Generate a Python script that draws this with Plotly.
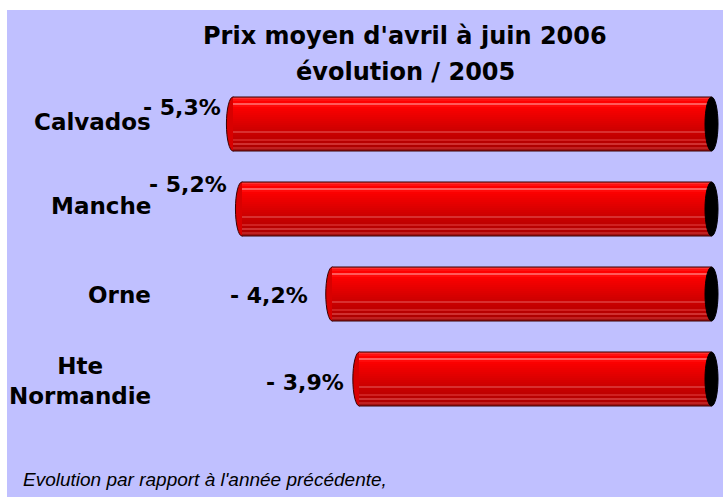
import plotly.graph_objects as go

# ---- data ----
categories = ["Calvados", "Manche", "Orne", "Hte<br>Normandie"]
values = [-5.3, -5.2, -4.2, -3.9]
value_labels = ["- 5,3%", "- 5,2%", "- 4,2%", "- 3,9%"]
title_lines = ["Prix moyen d'avril à juin 2006", "évolution / 2005"]
footnote = "Evolution par rapport à l'année précédente,"

# ---- style / layout helpers (not data) ----
W, H = 723, 497
ML, MT = 7, 10
PW, PH = W - ML, H - MT
BG = "#C0C0FF"

px_per_unit = 90.3
zero_px = 711.5
x_min = -(zero_px - ML) / px_per_unit
x_max = (W - zero_px) / px_per_unit
row_px = 85.0
first_px = 124.0
y_min = -(first_px - MT) / row_px
y_max = y_min + PH / row_px

bar_h = 54.0 / row_px
cap_rx = 6.5 / px_per_unit
cap_ry = bar_h / 2

stripe_colors = ["#ff3030", "#ff1010", "#ff0000", "#ff5a5a", "#ff0a0a", "#fb0000",
                 "#f60000", "#f20000", "#ee0000", "#ea0000", "#e60000", "#e20000",
                 "#de0000", "#da0000", "#d60000", "#d20000", "#ce0000", "#d83030",
                 "#c80000", "#c40000", "#c00000", "#d02020", "#b80000", "#d03030",
                 "#b00000", "#c02020", "#a01010"]

value_xshift = [-10, -13, -22, -13]
value_yshift = [17, 25, -1, -3]
cat_yshift = [2, 3.5, -1, -2]


def px_to_paper_x(px):
    return (px - ML) / PW


def px_to_paper_y(py):
    return 1 - (py - MT) / PH


ypos = list(range(len(categories)))
fig = go.Figure()

n = len(stripe_colors)
sw = bar_h / n
for i, c in enumerate(stripe_colors):
    fig.add_trace(go.Bar(
        x=values, y=ypos, orientation="h",
        width=[sw * 1.02] * len(values),
        offset=[-bar_h / 2 + i * sw] * len(values),
        base=[0] * len(values),
        marker=dict(color=c, line=dict(width=0)),
        showlegend=False, hoverinfo="skip",
    ))

shapes = []
for yi, v in zip(ypos, values):
    # back (left) end of cylinder
    shapes.append(dict(type="circle", xref="x", yref="y", layer="below",
                       x0=v - cap_rx, x1=v + cap_rx, y0=yi - cap_ry, y1=yi + cap_ry,
                       fillcolor="#d80000", line=dict(color="#3a0000", width=1)))
    # top / bottom outline
    for e in (-1, 1):
        shapes.append(dict(type="line", xref="x", yref="y", layer="above",
                           x0=v, x1=0, y0=yi + e * bar_h / 2, y1=yi + e * bar_h / 2,
                           line=dict(color="#3a0000", width=1)))
    # front (right) cap
    shapes.append(dict(type="circle", xref="x", yref="y", layer="above",
                       x0=-cap_rx, x1=cap_rx, y0=yi - cap_ry, y1=yi + cap_ry,
                       fillcolor="#000000", line=dict(color="#000000", width=1)))

annotations = []
bold = dict(family="DejaVu Sans", size=23, color="#000000")
for yi, cat, dy in zip(ypos, categories, cat_yshift):
    annotations.append(dict(text="<b>%s</b>" % cat, xref="paper", yref="y",
                            x=px_to_paper_x(153), y=yi, xanchor="right", yanchor="middle",
                            align="center", showarrow=False, yshift=dy, font=bold))
for yi, v, lab, dx, dy in zip(ypos, values, value_labels, value_xshift, value_yshift):
    annotations.append(dict(text="<b>%s</b>" % lab, xref="x", yref="y",
                            x=v, y=yi, xanchor="right", yanchor="middle",
                            showarrow=False, xshift=dx, yshift=dy,
                            font=dict(family="DejaVu Sans", size=22, color="#000000")))
title_y_px = [36, 72]
for line, ty in zip(title_lines, title_y_px):
    annotations.append(dict(text="<b>%s</b>" % line, xref="paper", yref="paper",
                            x=px_to_paper_x(405), y=px_to_paper_y(ty),
                            xanchor="center", yanchor="middle", showarrow=False,
                            font=dict(family="DejaVu Sans", size=24, color="#000000")))
annotations.append(dict(text="<i>%s</i>" % footnote, xref="paper", yref="paper",
                        x=px_to_paper_x(21), y=px_to_paper_y(479),
                        xanchor="left", yanchor="middle", showarrow=False,
                        font=dict(family="Liberation Sans", size=19, color="#000000")))

fig.update_layout(
    width=W, height=H,
    margin=dict(l=ML, r=0, t=MT, b=0, pad=0),
    paper_bgcolor="#FFFFFF", plot_bgcolor=BG,
    barmode="overlay", bargap=0,
    showlegend=False, hovermode=False,
    xaxis=dict(range=[x_min, x_max], showgrid=False, zeroline=False,
               showticklabels=False, showline=False, fixedrange=True),
    yaxis=dict(range=[y_max, y_min], showgrid=False, zeroline=False,
               showticklabels=False, showline=False, fixedrange=True),
    shapes=shapes, annotations=annotations,
)

fig.write_html(
    "out.html",
    config={"displayModeBar": False, "staticPlot": True},
    post_script=("document.body.style.margin='0';"
                 "document.body.style.overflow='hidden';"
                 "document.documentElement.style.overflow='hidden';"),
)
